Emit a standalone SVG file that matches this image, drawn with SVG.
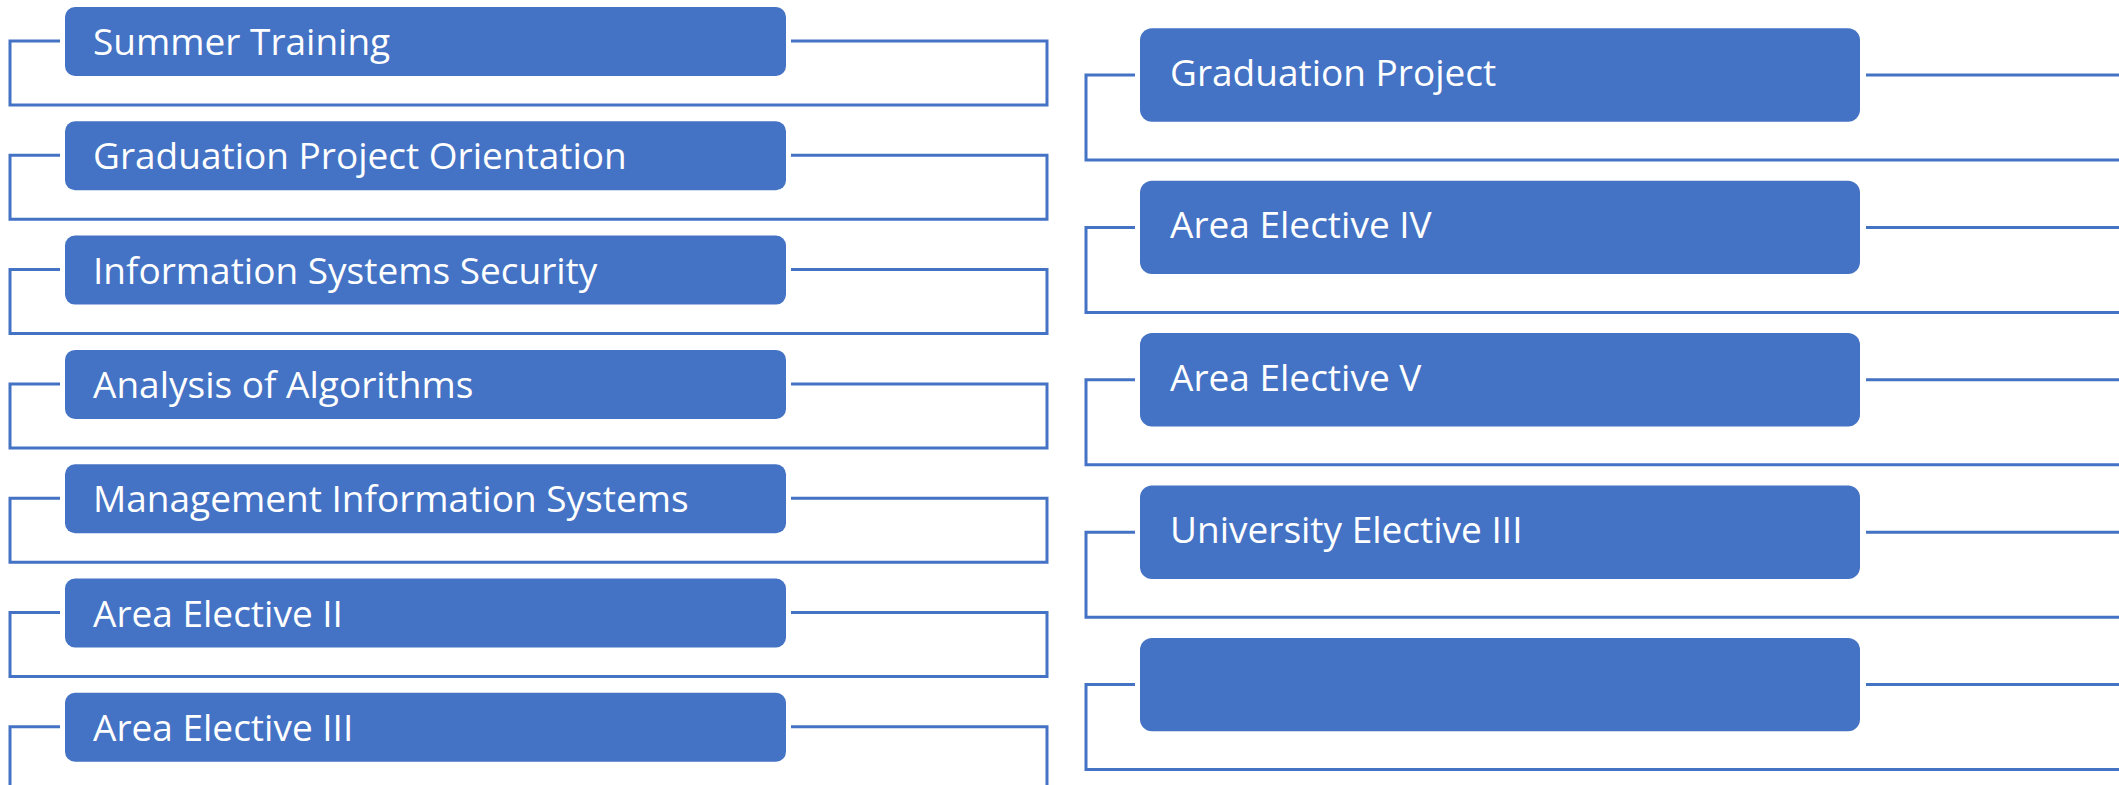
<svg xmlns="http://www.w3.org/2000/svg" width="2119" height="785" viewBox="0 0 2119 785">
<style>
.box{fill:#4472C4;}
.conn{fill:none;stroke:#4472C4;stroke-width:3;}
.lbl{font-family:"Open Sans","Noto Sans",sans-serif;font-size:37px;fill:#FFFFFF;}
</style>
<rect width="2119" height="785" fill="#FFFFFF"/>
<g id="connectors">
<path class="conn" d="M791,41 H1047 V105 H10 V41 H60"/>
<path class="conn" d="M791,155.3 H1047 V219.3 H10 V155.3 H60"/>
<path class="conn" d="M791,269.6 H1047 V333.6 H10 V269.6 H60"/>
<path class="conn" d="M791,383.9 H1047 V447.9 H10 V383.9 H60"/>
<path class="conn" d="M791,498.2 H1047 V562.2 H10 V498.2 H60"/>
<path class="conn" d="M791,612.5 H1047 V676.5 H10 V612.5 H60"/>
<path class="conn" d="M791,726.8 H1047 V790.8 H10 V726.8 H60"/>
<path class="conn" d="M1866,75 H2125 M1135,75 H1086 V160 H2125"/>
<path class="conn" d="M1866,227.4 H2125 M1135,227.4 H1086 V312.4 H2125"/>
<path class="conn" d="M1866,379.8 H2125 M1135,379.8 H1086 V464.8 H2125"/>
<path class="conn" d="M1866,532.2 H2125 M1135,532.2 H1086 V617.2 H2125"/>
<path class="conn" d="M1866,684.6 H2125 M1135,684.6 H1086 V769.6 H2125"/>
</g>
<g id="n1"><rect class="box" x="65" y="7" width="721" height="69" rx="10"/><text class="lbl" x="93" y="55">Summer Training</text></g>
<g id="n2"><rect class="box" x="65" y="121.3" width="721" height="69" rx="10"/><text class="lbl" x="93" y="169.3">Graduation Project Orientation</text></g>
<g id="n3"><rect class="box" x="65" y="235.6" width="721" height="69" rx="10"/><text class="lbl" x="93" y="283.6">Information Systems Security</text></g>
<g id="n4"><rect class="box" x="65" y="349.9" width="721" height="69" rx="10"/><text class="lbl" x="93" y="397.9">Analysis of Algorithms</text></g>
<g id="n5"><rect class="box" x="65" y="464.2" width="721" height="69" rx="10"/><text class="lbl" x="93" y="512.2">Management Information Systems</text></g>
<g id="n6"><rect class="box" x="65" y="578.5" width="721" height="69" rx="10"/><text class="lbl" x="93" y="626.5">Area Elective II</text></g>
<g id="n7"><rect class="box" x="65" y="692.8" width="721" height="69" rx="10"/><text class="lbl" x="93" y="740.8">Area Elective III</text></g>
<g id="r1"><rect class="box" x="1140" y="28.3" width="720" height="93.4" rx="12"/><text class="lbl" x="1170" y="86">Graduation Project</text></g>
<g id="r2"><rect class="box" x="1140" y="180.7" width="720" height="93.4" rx="12"/><text class="lbl" x="1170" y="238.4">Area Elective IV</text></g>
<g id="r3"><rect class="box" x="1140" y="333.1" width="720" height="93.4" rx="12"/><text class="lbl" x="1170" y="390.8">Area Elective V</text></g>
<g id="r4"><rect class="box" x="1140" y="485.5" width="720" height="93.4" rx="12"/><text class="lbl" x="1170" y="543.2">University Elective III</text></g>
<g id="r5"><rect class="box" x="1140" y="637.9" width="720" height="93.4" rx="12"/></g>
</svg>
